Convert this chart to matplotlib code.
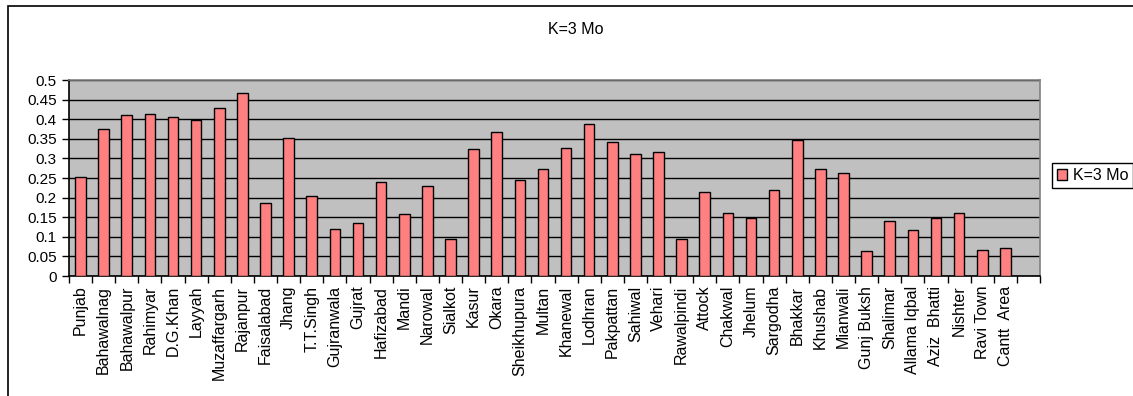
import numpy as np
import matplotlib
import matplotlib.pyplot as plt
from matplotlib.patches import Rectangle
matplotlib.use('Agg')

plt.rcParams['font.family'] = ['Liberation Sans', 'DejaVu Sans']

districts = ["Punjab", "Bahawalnag", "Bahawalpur", "Rahimyar", "D.G.Khan", "Layyah",
             "Muzaffargarh", "Rajanpur", "Faisalabad", "Jhang", "T.T.Singh", "Gujranwala",
             "Gujrat", "Hafizabad", "Mandi", "Narowal", "Sialkot", "Kasur", "Okara",
             "Sheikhupura", "Multan", "Khanewal", "Lodhran", "Pakpattan", "Sahiwal",
             "Vehari", "Rawalpindi", "Attock", "Chakwal", "Jhelum", "Sargodha", "Bhakkar",
             "Khushab", "Mianwali", "Gunj Buksh", "Shalimar", "Allama Iqbal",
             "Aziz  Bhatti", "Nishter", "Ravi Town", "Cantt  Area", ""]
k3_values = [0.253, 0.376, 0.410, 0.413, 0.406, 0.399, 0.429, 0.467, 0.187, 0.353,
             0.204, 0.120, 0.136, 0.240, 0.157, 0.230, 0.094, 0.323, 0.367, 0.244,
             0.273, 0.327, 0.387, 0.343, 0.310, 0.317, 0.094, 0.214, 0.160, 0.147,
             0.220, 0.347, 0.273, 0.263, 0.064, 0.140, 0.117, 0.147, 0.160, 0.067,
             0.071, np.nan]
y_ticks = [0, 0.05, 0.1, 0.15, 0.2, 0.25, 0.3, 0.35, 0.4, 0.45, 0.5]
series_name = "K=3 Mo"

W, H = 1133, 396
fig = plt.figure(figsize=(W / 100, H / 100), dpi=100)

# outer chart border (runs off the right and bottom edges)
fig.patches.append(Rectangle((8 / W, 0 - 0.05), 1.2, 1 - 6 / H + 0.05,
                             transform=fig.transFigure, fill=False,
                             edgecolor='black', linewidth=1.2))

ax = fig.add_axes([69 / W, 1 - 276 / H, 971 / W, 196 / H])
ax.set_facecolor('#C0C0C0')
x = np.arange(len(districts))
bars = ax.bar(x, k3_values, width=0.46, color='#FF8080', edgecolor='black',
              linewidth=1.0, zorder=3, label=series_name)

ax.set_xlim(-0.5, len(districts) - 0.5)
ax.set_ylim(0, 0.5)
ax.set_yticks(y_ticks)
ax.set_yticklabels([f"{v:g}" for v in y_ticks], fontsize=11)
ax.yaxis.grid(True, color='black', linewidth=1.0, zorder=1)
ax.set_axisbelow(True)

ax.set_xticks(x)
ax.set_xticklabels(districts, rotation=90, fontsize=11.5, va='top', ha='center')
ax.tick_params(axis='x', which='major', length=0, pad=7)
ax.set_xticks(np.arange(-0.5, len(districts)), minor=True)
ax.tick_params(axis='x', which='minor', length=5, color='black', width=1)
ax.tick_params(axis='y', length=5, color='black', width=1, pad=4)

ax.spines['left'].set_color('black')
ax.spines['bottom'].set_color('black')
ax.spines['top'].set_color('#808080')
ax.spines['right'].set_color('#808080')
for s in ax.spines.values():
    s.set_linewidth(1.2)

fig.text(576 / W, 1 - 30 / H, series_name, ha='center', va='center', fontsize=11.5)

leg = fig.legend(handles=[bars], labels=[series_name], loc='upper left',
                 bbox_to_anchor=(1052 / W, 1 - 163 / H), fontsize=11.5,
                 frameon=True, fancybox=False, edgecolor='black', framealpha=1,
                 handlelength=0.65, handleheight=0.65, handletextpad=0.35,
                 borderpad=0.3, borderaxespad=0)
leg.get_frame().set_linewidth(1.0)

fig.savefig('out.png', dpi=100)
